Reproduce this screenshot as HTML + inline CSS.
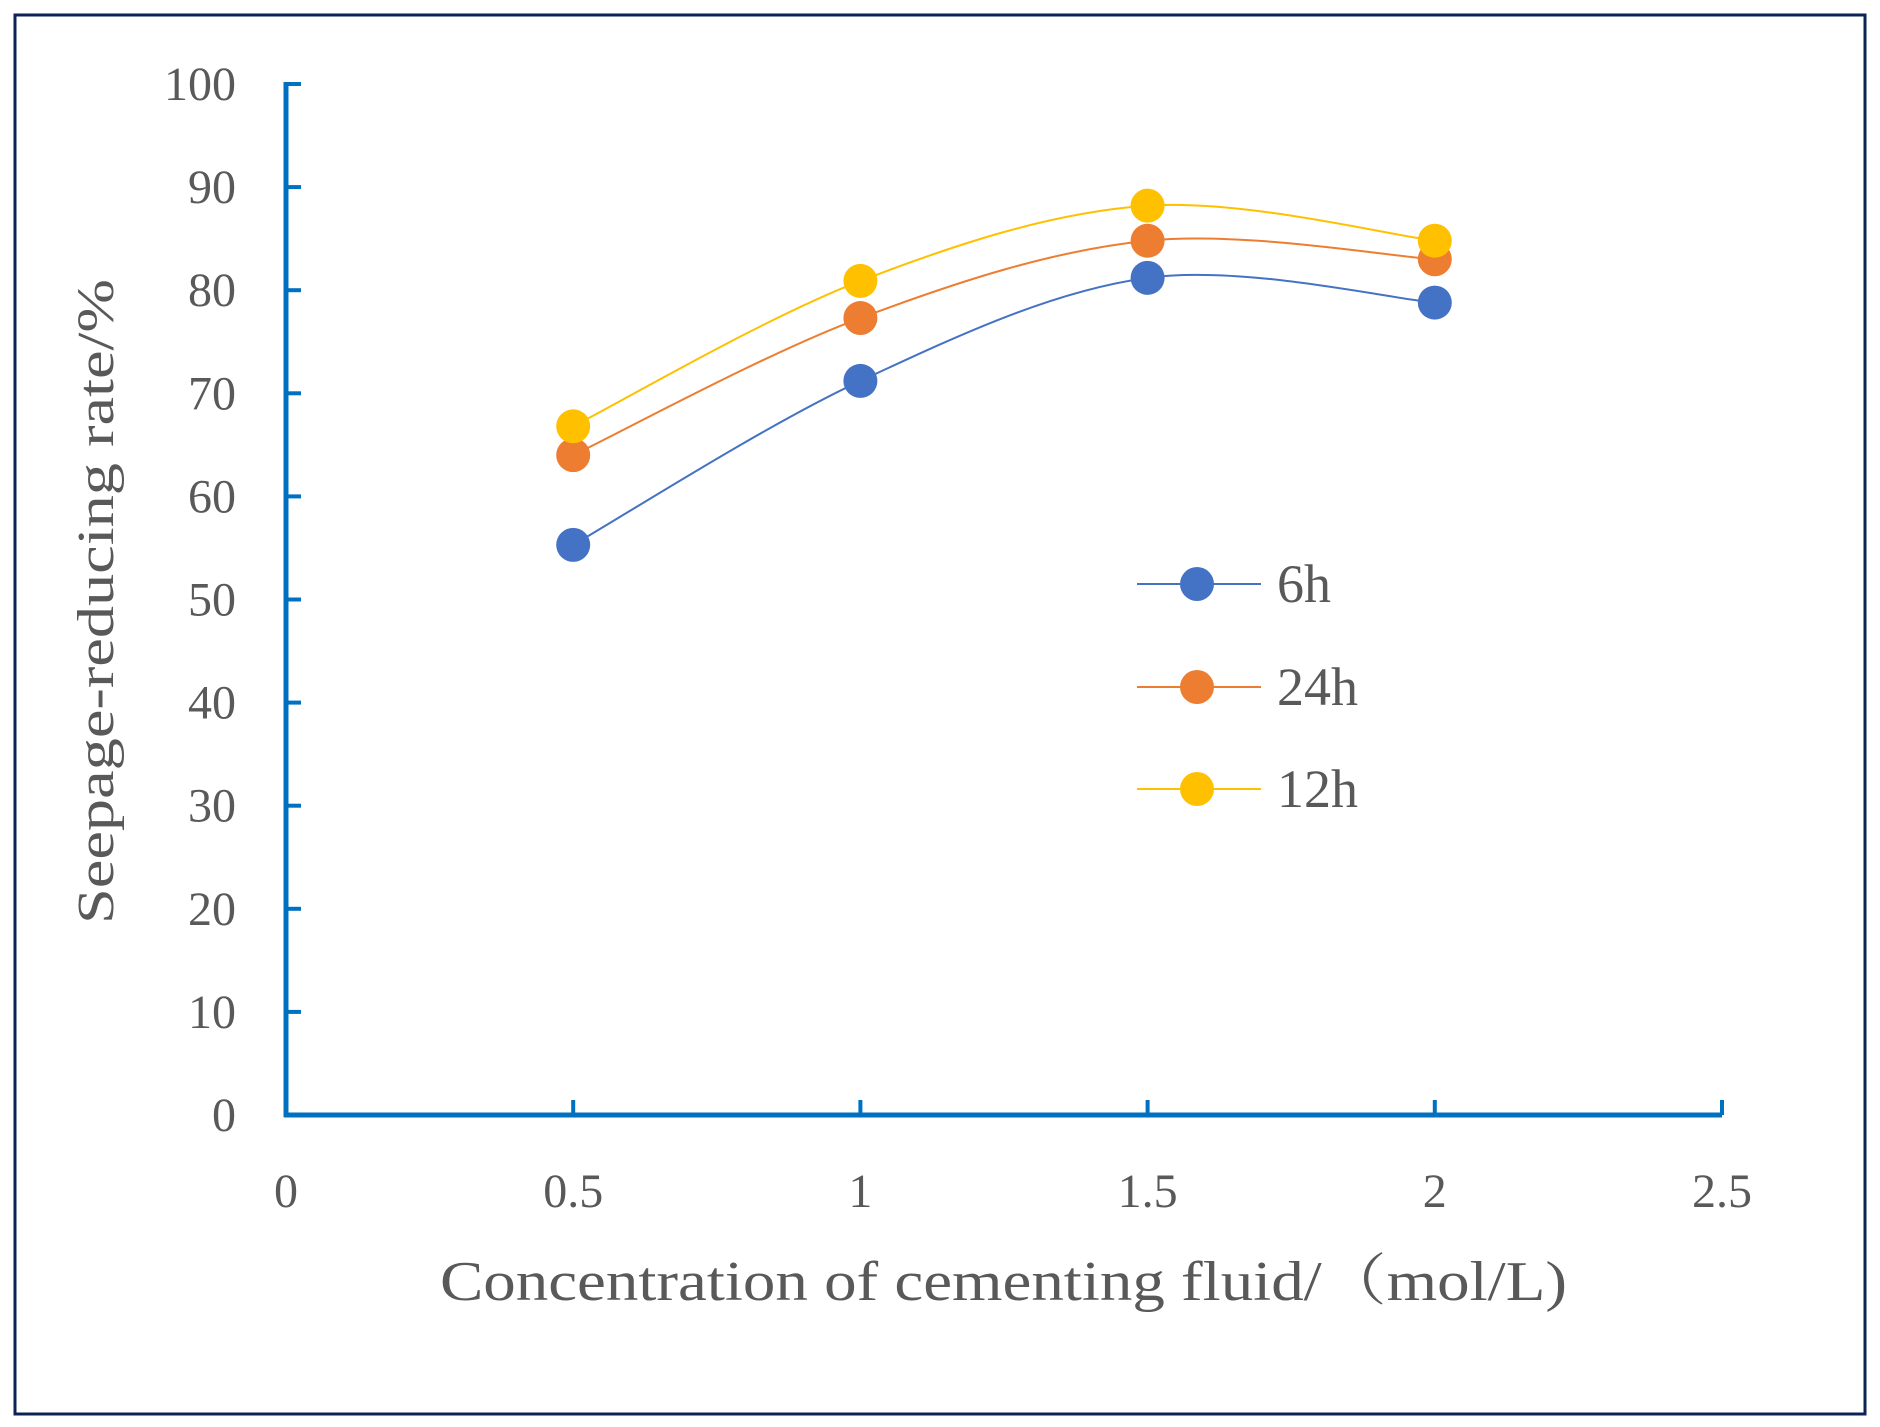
<!DOCTYPE html>
<html><head><meta charset="utf-8">
<style>
html,body{margin:0;padding:0;background:#fff;}
svg{display:block;}
text{font-family:"Liberation Serif","Noto Serif CJK SC",serif;fill:#595959;}
</style></head>
<body>
<svg id="chart" width="1880" height="1427" viewBox="0 0 1880 1427">
<rect x="15" y="15" width="1850" height="1399" fill="none" stroke="#0d2356" stroke-width="3"/>
<g id="plot"></g>
<text x="440" y="1300" font-size="56" textLength="1127" lengthAdjust="spacingAndGlyphs">Concentration of cementing fluid/（mol/L)</text>
<text x="-323" y="0" font-size="52" textLength="645" lengthAdjust="spacingAndGlyphs" transform="translate(113 601) rotate(-90)">Seepage-reducing rate/%</text>
</svg>
<script>
const xTicks=[0,0.5,1,1.5,2,2.5];
const yTicks=[0,10,20,30,40,50,60,70,80,90,100];
const categories=[0.5,1,1.5,2];
const series6h=[55.3,71.2,81.2,78.8];
const series24h=[64.0,77.3,84.8,83.0];
const series12h=[66.8,80.9,88.2,84.8];
const seriesNames=["6h","24h","12h"];
const seriesColors=["#4472c4","#ed7d31","#ffc000"];
const ns="http://www.w3.org/2000/svg";
const g=document.getElementById('plot');
const X0=286,X1=1722,Y0=1115,Y1=84;
const sx=v=>X0+(v-0)/(2.5-0)*(X1-X0);
const sy=v=>Y0-(v-0)/100*(Y0-Y1);
function mk(t,a){const e=document.createElementNS(ns,t);for(const k in a)e.setAttribute(k,a[k]);g.appendChild(e);return e;}
let ax=mk('line',{x1:X0,y1:Y1-2,x2:X0,y2:Y0+2,stroke:'#0070c0','stroke-width':5});


ax=mk('line',{x1:X0-2,y1:Y0,x2:X1,y2:Y0,stroke:'#0070c0','stroke-width':5});


yTicks.forEach(v=>{
 const t=mk('line',{x1:X0,y1:sy(v),x2:X0+15,y2:sy(v),stroke:'#0070c0','stroke-width':4});
 
 
 const l=mk('text',{x:236,y:sy(v)+16,'font-size':48,'text-anchor':'end'});
 l.textContent=v;
 
 
});
xTicks.forEach(v=>{
 const t=mk('line',{x1:sx(v),y1:Y0,x2:sx(v),y2:Y0-15,stroke:'#0070c0','stroke-width':4});
 
 
 const l=mk('text',{x:sx(v),y:1207,'font-size':48,'text-anchor':'middle'});
 l.textContent=v;
 
 
});
function smooth(p){
 let d=`M${p[0][0]},${p[0][1]}`;
 for(let i=0;i<p.length-1;i++){
  const p0=p[i-1]||p[i],p1=p[i],p2=p[i+1],p3=p[i+2]||p2;
  const c1=[p1[0]+(p2[0]-p0[0])/6,p1[1]+(p2[1]-p0[1])/6];
  const c2=[p2[0]-(p3[0]-p1[0])/6,p2[1]-(p3[1]-p1[1])/6];
  d+=` C${c1[0]},${c1[1]} ${c2[0]},${c2[1]} ${p2[0]},${p2[1]}`;
 }
 return d;
}
const all=[series6h,series24h,series12h];
all.forEach((s,si)=>{
 const pts=categories.map((c,i)=>[sx(c),sy(s[i])]);
 const p=mk('path',{d:smooth(pts),fill:'none',stroke:seriesColors[si],'stroke-width':2});
 
 
});
all.forEach((s,si)=>{
 categories.forEach((c,i)=>{
  const m=mk('circle',{cx:sx(c),cy:sy(s[i]),r:17,fill:seriesColors[si]});
  
  
 });
});
const legY=[584,687,789];
seriesNames.forEach((n,i)=>{
 const l=mk('line',{x1:1137,y1:legY[i],x2:1261,y2:legY[i],stroke:seriesColors[i],'stroke-width':2});
 
 
 const c=mk('circle',{cx:1197,cy:legY[i],r:17,fill:seriesColors[i]});
 
 
 const t=mk('text',{x:1277,y:legY[i]+18,'font-size':54});
 t.textContent=n;
 
 
});
</script>
</body></html>
